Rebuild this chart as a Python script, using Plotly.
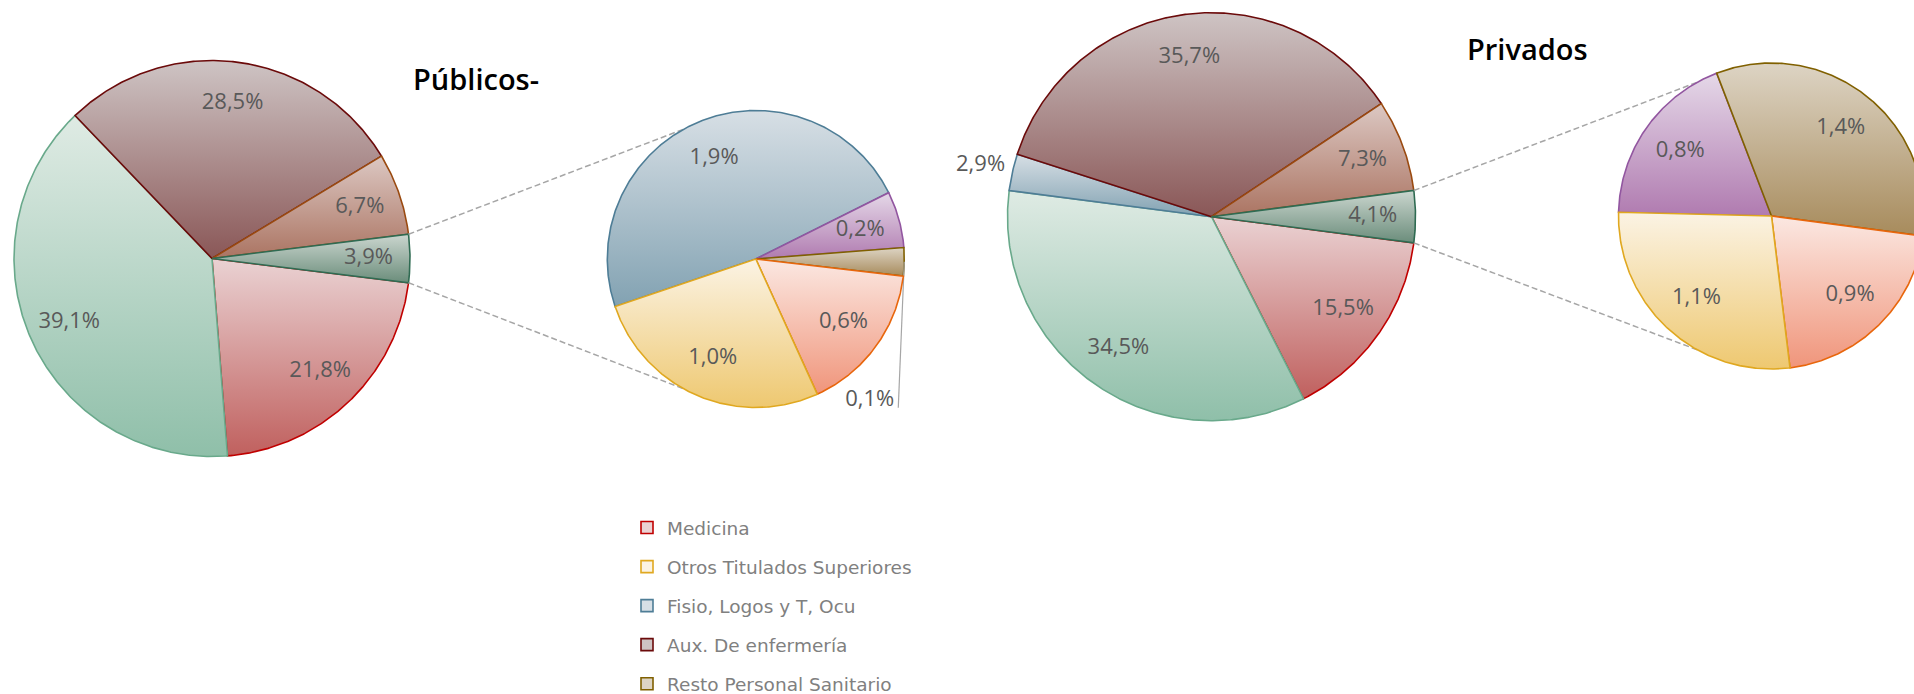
import math
import plotly.graph_objects as go

# ------------------------------------------------------------------ data
titles = ["Públicos-", "Privados"]
other_label = "Otros"

pub_main_labels = ["Medicina", "Enfermería", "Aux. De enfermería", "Técnicos Sanitarios"]
pub_main_values = [21.8, 39.1, 28.5, 6.7]
pub_second_labels = ["Fisio, Logos y T, Ocu", "Farmacia", "Resto Personal Sanitario",
                     "Psicología", "Otros Titulados Superiores"]
pub_second_values = [1.87, 0.24, 0.12, 0.64, 1.04]

priv_main_labels = ["Medicina", "Enfermería", "Fisio, Logos y T, Ocu",
                    "Aux. De enfermería", "Técnicos Sanitarios"]
priv_main_values = [15.5, 34.5, 2.9, 35.7, 7.3]
priv_second_labels = ["Farmacia", "Resto Personal Sanitario", "Psicología",
                      "Otros Titulados Superiores"]
priv_second_values = [0.77, 1.35, 0.86, 1.12]

legend_labels = ["Medicina", "Otros Titulados Superiores", "Fisio, Logos y T, Ocu",
                 "Aux. De enfermería", "Resto Personal Sanitario"]

# ------------------------------------------------------------------ styles (top colour, bottom colour, border)
STYLE = {
    "Medicina": ("#ead2d3", "#c0605e", "#c00000"),
    "Enfermería": ("#dfebe4", "#8fbfa9", "#69a98b"),
    "Aux. De enfermería": ("#cec4c4", "#8a5757", "#6b0a0a"),
    "Técnicos Sanitarios": ("#dcc8c3", "#ab7462", "#9a4a10"),
    other_label: ("#cbd6cf", "#6b8d7b", "#2f6b52"),
    "Fisio, Logos y T, Ocu": ("#d7dfe5", "#82a2b2", "#4e7d96"),
    "Farmacia": ("#e5d8e8", "#b07bb0", "#9256a0"),
    "Resto Personal Sanitario": ("#ddd4c4", "#a78b5c", "#806000"),
    "Psicología": ("#fbe8e2", "#f0957b", "#e8660c"),
    "Otros Titulados Superiores": ("#fbf3e4", "#eec870", "#e0a820"),
}
LABEL_FONT = dict(family="Open Sans", size=22, color="#595959")
W, H = 1914, 694

# geometry of the four pies (pixel space)
GROUPS = [
    dict(title=titles[0], title_pos=(411, 78),
         main=dict(cx=212, cy=258.5, r=198, lab=0.79),
         second=dict(cx=755.8, cy=259, r=148.5, start=198.7, lab=0.73),
         main_labels=pub_main_labels, main_values=pub_main_values,
         second_labels=pub_second_labels, second_values=pub_second_values,
         outside={("second", 2): "below"}),
    dict(title=titles[1], title_pos=(1465, 48),
         main=dict(cx=1211.5, cy=216.7, r=204, lab=0.79),
         second=dict(cx=1771.5, cy=216, r=153, start=178.6, lab=0.73),
         main_labels=priv_main_labels, main_values=priv_main_values,
         second_labels=priv_second_labels, second_values=priv_second_values,
         outside={("main", 2): "radial"}),
]


def pt(g, ang, rf=1.0):
    a = math.radians(ang)
    return g["cx"] + g["r"] * rf * math.cos(a), g["cy"] - g["r"] * rf * math.sin(a)


def fmt(v):
    return f"{v:.1f}%".replace(".", ",")


fig = go.Figure()


def draw_pie(g, labels, values, start, total, key, outside):
    ang = start
    for i, (lab, val) in enumerate(zip(labels, values)):
        span = 360.0 * val / total
        a0, a1 = ang, ang - span
        n = max(3, int(span / 0.5) + 1)
        xs, ys = [g["cx"]], [g["cy"]]
        for k in range(n + 1):
            x, y = pt(g, a0 + (a1 - a0) * k / n)
            xs.append(x)
            ys.append(y)
        xs.append(g["cx"])
        ys.append(g["cy"])
        top, bot, border = STYLE[lab]
        fig.add_trace(go.Scatter(
            x=xs, y=ys, mode="lines", fill="toself",
            fillgradient=dict(type="vertical", colorscale=[[0, bot], [1, top]]),
            line=dict(color=border, width=1.6),
            name=lab, showlegend=False, hoveron="fills",
            text=f"{lab}: {fmt(val)}", hoverinfo="text"))
        mid = (a0 + a1) / 2
        mode = outside.get((key, i))
        if mode == "below":
            ex, ey = pt(g, mid)
            lx, ly = ex - 6, ey + 146
            fig.add_trace(go.Scatter(x=[ex, lx], y=[ey, ly], mode="lines",
                                     line=dict(color="#a6a6a6", width=1.2),
                                     showlegend=False, hoverinfo="skip"))
            fig.add_trace(go.Scatter(x=[lx - 4], y=[ly - 7], mode="text", text=[fmt(val)],
                                     textposition="middle left", textfont=LABEL_FONT,
                                     showlegend=False, hoverinfo="skip"))
        else:
            rf = 1.16 if mode == "radial" else g["lab"]
            lx, ly = pt(g, mid, rf)
            fig.add_trace(go.Scatter(x=[lx], y=[ly], mode="text", text=[fmt(val)],
                                     textposition="middle center", textfont=LABEL_FONT,
                                     showlegend=False, hoverinfo="skip"))
        ang = a1


for G in GROUPS:
    other_value = sum(G["second_values"])
    mvals = list(G["main_values"]) + [other_value]
    mlabs = list(G["main_labels"]) + [other_label]
    total = sum(mvals)
    other_span = 360.0 * other_value / total
    m, s = G["main"], G["second"]
    draw_pie(m, mlabs, mvals, -other_span / 2, total, "main", G["outside"])
    # connector lines from the "other" slice to the second pie
    for sign in (1, -1):
        x0, y0 = pt(m, sign * other_span / 2)
        x1, y1 = pt(s, sign * 119)
        fig.add_trace(go.Scatter(x=[x0, x1], y=[y0, y1], mode="lines",
                                 line=dict(color="#a6a6a6", width=1.5, dash="6px,3px"),
                                 showlegend=False, hoverinfo="skip"))
    draw_pie(s, G["second_labels"], G["second_values"], s["start"],
             sum(G["second_values"]), "second", G["outside"])
    fig.add_annotation(x=G["title_pos"][0], y=G["title_pos"][1], xref="x", yref="y",
                       text=G["title"], showarrow=False, xanchor="left", yanchor="middle",
                       font=dict(family="Open Sans", size=29, color="#000000", weight=600))

# legend entries
for lab in legend_labels:
    top, bot, border = STYLE[lab]
    fig.add_trace(go.Scatter(x=[None], y=[None], mode="markers", name=lab,
                             legendgroup=lab,
                             marker=dict(symbol="square", size=12, color=top,
                                         line=dict(color=border, width=1.6))))

fig.update_layout(
    width=W, height=H,
    margin=dict(l=0, r=0, t=0, b=0, autoexpand=False),
    paper_bgcolor="white", plot_bgcolor="white",
    xaxis=dict(range=[0, W], visible=False, fixedrange=True),
    yaxis=dict(range=[H, 0], visible=False, fixedrange=True),
    showlegend=True,
    legend=dict(x=627 / W, y=1 - 509 / H, xanchor="left", yanchor="top",
                xref="container", yref="container",
                traceorder="grouped", tracegroupgap=12,
                bgcolor="rgba(0,0,0,0)",
                font=dict(family="DejaVu Sans", size=18.5, color="#808080")),
)

fig.write_html("out.html", config={"displayModeBar": False},
               post_script="document.body.style.margin='0';")
